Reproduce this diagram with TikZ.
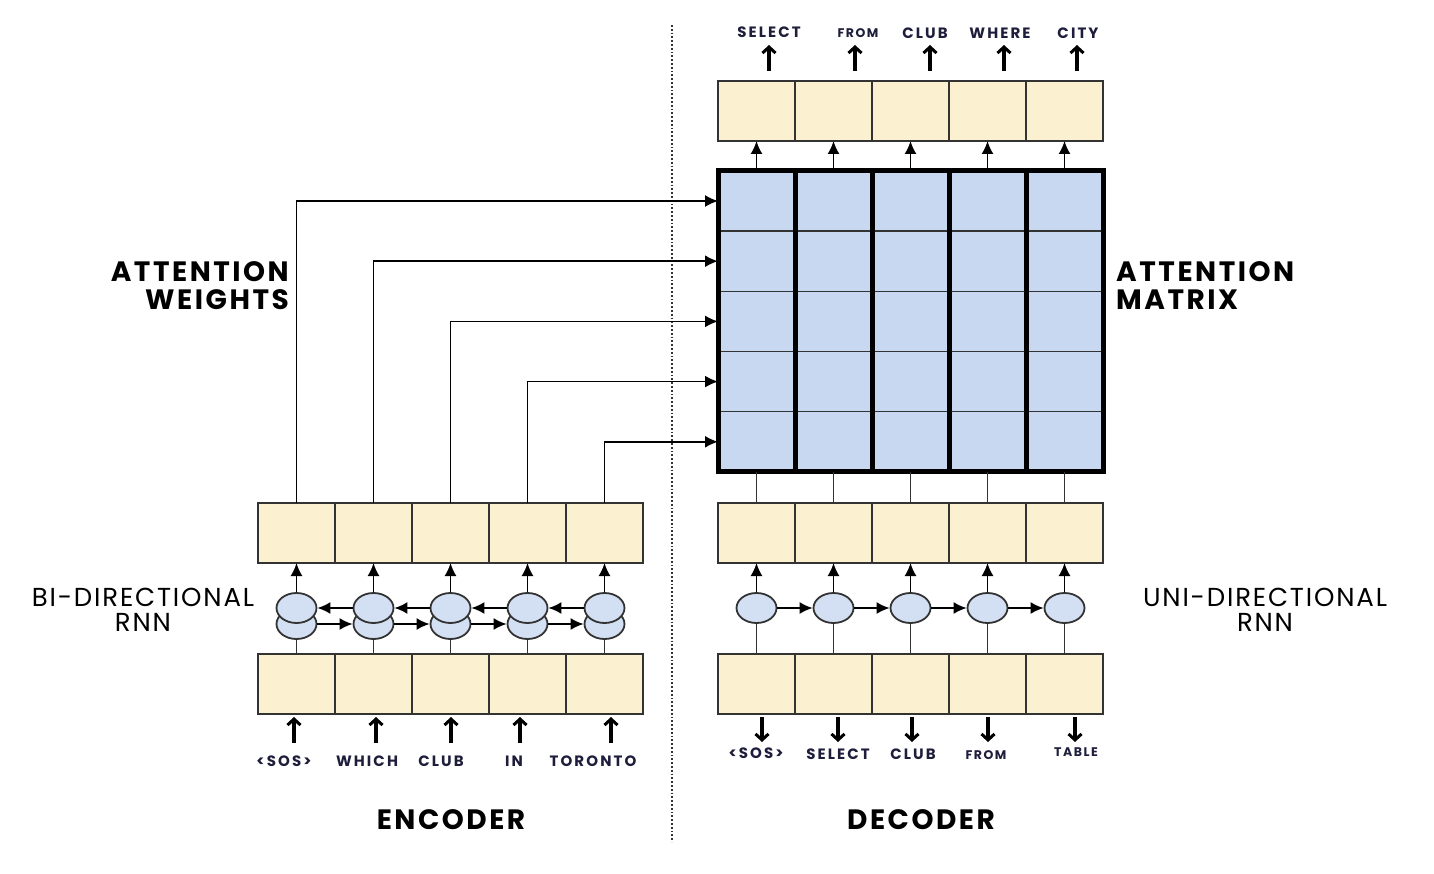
\documentclass[tikz,border=0pt]{standalone}
\usepackage{fontspec}
\setmainfont{Poppins}
\usetikzlibrary{arrows.meta,shapes.geometric}
\definecolor{cream}{HTML}{FBF0D0}
\definecolor{mblue}{HTML}{C9D8F1}
\definecolor{eblue}{HTML}{D3E0F3}
\definecolor{edge}{HTML}{333333}
\definecolor{tokc}{HTML}{1E1E3C}
\tikzset{
  x=1pt, y=-1pt,
  cell/.style={draw=edge, fill=cream, line width=1.8pt, minimum width=77pt, minimum height=60pt, inner sep=0pt, outer sep=0pt},
  mcell/.style={draw=edge, fill=mblue, line width=1.5pt, minimum width=77pt, minimum height=60.2pt, inner sep=0pt, outer sep=0pt},
  rnn/.style={ellipse, draw=edge, fill=eblue, line width=1.8pt, minimum width=40pt, minimum height=30pt, inner sep=0pt},
  arr/.style={line width=1.7pt, draw=black, -{Latex[length=13pt,width=12pt]}},
  ln/.style={line width=1.8pt, draw=edge},
  tok/.style={font=\fontsize{15}{16}\selectfont\bfseries\addfontfeatures{LetterSpace=14}, text=tokc, inner sep=0pt},
  stok/.style={tok, font=\fontsize{12.5}{13}\selectfont\bfseries\addfontfeatures{LetterSpace=12}},
  glyph/.style={line width=3.2pt, -{Straight Barb[length=6pt,width=13pt,line width=3pt]}},
  big/.style={font=\fontsize{28}{28}\selectfont\bfseries\addfontfeatures{LetterSpace=9}, inner sep=0pt},
  side/.style={font=\fontsize{26}{25}\selectfont\addfontfeatures{LetterSpace=7}, inner sep=0pt, align=center},
}
\begin{document}
\begin{tikzpicture}
\useasboundingbox (0,0) rectangle (1434,874);
\fill[white] (0,0) rectangle (1434,874);
% dotted divider
\coordinate (dvt) at (672,25);
\coordinate (dvb) at (672,842);
\draw[line width=1.8pt, dotted, black!80] (dvt) -- (dvb);

% encoder rows
\foreach \i/\x in {1/296.5,2/373.5,3/450.5,4/527.5,5/604.5}{
  \node[cell] (et\i) at (\x,533) {};
  \node[cell] (eb\i) at (\x,684) {};
  \node[rnn] (el\i) at (\x,624) {};
  \node[rnn] (eu\i) at (\x,608) {};
}
% decoder rows
\foreach \i/\x in {1/756.5,2/833.5,3/910.5,4/987.5,5/1064.5}{
  \node[cell] (dt\i) at (\x,533) {};
  \node[cell] (db\i) at (\x,684) {};
  \node[rnn] (d\i) at (\x,608) {};
  \node[cell] (o\i) at (\x,111) {};
  \foreach \r/\y in {1/201,2/261.2,3/321.4,4/381.6,5/441.8}{
    \node[mcell] (m\r-\i) at (\x,\y) {};
  }
}
% thick matrix borders
\draw[line width=5pt, line join=miter] (m1-1.north west) rectangle (m5-5.south east);
\foreach \i in {1,2,3,4}{
  \draw[line width=5pt] (m1-\i.north east) -- (m5-\i.south east);
}

% RNN connections
\foreach \i in {1,...,5}{
  \draw[ln] (eb\i.north) -- (el\i.south);
  \draw[arr] (eu\i.north) -- (et\i.south);
  \draw[ln] (db\i.north) -- (d\i.south);
  \draw[arr] (d\i.north) -- (dt\i.south);
  \draw[ln] (dt\i.north) -- (m5-\i.south);
  \draw[arr] (m1-\i.north) -- (o\i.south);
}
\foreach \i/\j in {1/2,2/3,3/4,4/5}{
  \draw[arr] (eu\j.west) -- (eu\i.east);
  \draw[arr] (el\i.east) -- (el\j.west);
  \draw[arr] (d\i.east) -- (d\j.west);
}
% attention weights
\foreach \i in {1,...,5}{
  \draw[arr] (et\i.north) |- (m\i-1.west);
}

% top output tokens
\node[tok] (ot1) at (769,32) {SELECT};
\node[stok] (ot2) at (858,33) {FROM};
\node[tok] (ot3) at (925,33) {CLUB};
\node[tok] (ot4) at (1000,33) {WHERE};
\node[tok] (ot5) at (1078,33) {CITY};
\foreach \n/\x in {1/769,2/855,3/930,4/1004,5/1077}{
  \coordinate (otb\n) at (\x,71);
  \coordinate (ott\n) at (\x,45);
  \draw[glyph] (otb\n) -- (ott\n);
}
% encoder input tokens
\foreach \n/\x/\t in {1/284/{<SOS>},2/367/WHICH,3/441/CLUB,4/514/IN,5/593/TORONTO}{
  \node[tok] (it\n) at (\x,761) {\t};
}
\foreach \n/\x in {1/294,2/376,3/451,4/520,5/611}{
  \coordinate (itb\n) at (\x,743);
  \coordinate (itt\n) at (\x,717);
  \draw[glyph] (itb\n) -- (itt\n);
}
% decoder input tokens
\node[tok] (dit1) at (756,753) {<SOS>};
\node[tok] (dit2) at (838,754) {SELECT};
\node[tok] (dit3) at (913,754) {CLUB};
\node[stok] (dit4) at (986,755) {FROM};
\node[stok] (dit5) at (1076,752) {TABLE};
\foreach \n/\x in {1/762,2/838,3/912,4/988,5/1075}{
  \coordinate (dia\n) at (\x,717);
  \coordinate (dib\n) at (\x,742);
  \draw[glyph] (dia\n) -- (dib\n);
}

% labels
\node[big, anchor=east, align=right] (aw) at (289,286) {ATTENTION\\WEIGHTS};
\node[big, anchor=west, align=left] (am) at (1116,286) {ATTENTION\\MATRIX};
\node[side] (bi) at (143,610) {BI-DIRECTIONAL\\RNN};
\node[side] (uni) at (1265,610) {UNI-DIRECTIONAL\\RNN};
\node[big] (enc) at (451,820) {ENCODER};
\node[big] (dec) at (921,820) {DECODER};
\end{tikzpicture}
\end{document}
